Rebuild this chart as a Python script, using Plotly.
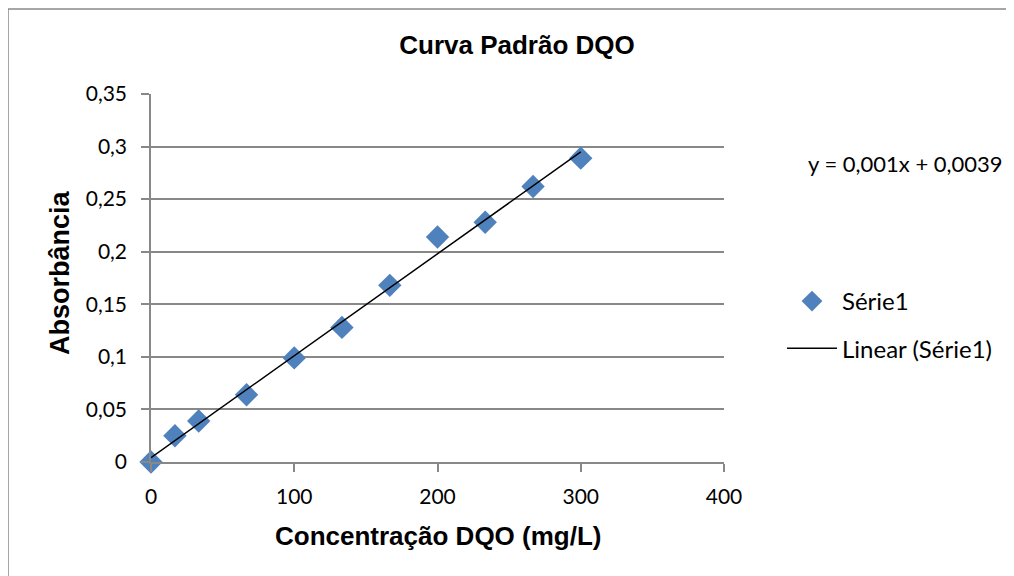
import numpy as np
import plotly.graph_objects as go

# Data
concentracao = [0, 16.7, 33.3, 66.7, 100, 133.3, 166.7, 200, 233.3, 266.7, 300]
absorbancia = [0.0, 0.025, 0.039, 0.064, 0.099, 0.128, 0.168, 0.214, 0.228, 0.262, 0.289]
x_ticks = [0, 100, 200, 300, 400]
y_ticks = [0, 0.05, 0.1, 0.15, 0.2, 0.25, 0.3, 0.35]
y_tick_labels = ["0", "0,05", "0,1", "0,15", "0,2", "0,25", "0,3", "0,35"]
equacao = "y = 0,001x + 0,0039"

# Linear trendline (least squares, as Excel does)
slope, intercept = np.polyfit(concentracao, absorbancia, 1)
trend_x = [min(concentracao), max(concentracao)]
trend_y = [slope * v + intercept for v in trend_x]

OFF = 8  # page body margin
W, H = 1014, 576
L, R, T, B = 151 - OFF, 724 - OFF, 94 - OFF, 462 - OFF

def px(xp):
    return (xp - OFF - L) / (R - L)

def py(yp):
    return (B - (yp - OFF)) / (B - T)

fig = go.Figure()
fig.add_trace(go.Scatter(
    x=concentracao, y=absorbancia, mode="markers", name="Série1",
    marker=dict(symbol="diamond", size=18, color="#4F81BD"),
    legendgroup="a", cliponaxis=False,
))
fig.add_trace(go.Scatter(
    x=trend_x, y=trend_y, mode="lines", name="Linear (Série1)",
    line=dict(color="black", width=1.5),
    legendgroup="b", cliponaxis=False,
))

tickfont = dict(family="Lato, Open Sans, sans-serif", size=21, color="black")
boldfont = "Liberation Sans, Arial, sans-serif"
fig.update_layout(
    width=W, height=H,
    margin=dict(l=L, r=W - R, t=T, b=H - B),
    paper_bgcolor="white", plot_bgcolor="white",
    title=dict(text="<b>Curva Padrão DQO</b>", x=(517 - OFF) / W, xanchor="center",
               y=1 - (45 - OFF) / H, yanchor="middle", yref="container",
               font=dict(family=boldfont, size=26, color="black")),
    xaxis=dict(range=[0, 400], tickvals=x_ticks, ticktext=[str(v) for v in x_ticks],
               showgrid=False, zeroline=False, showline=True, linecolor="#888888", linewidth=1.5,
               ticks="outside", ticklen=8, tickwidth=1.5, tickcolor="#888888",
               tickfont=tickfont, ticklabelstandoff=7),
    yaxis=dict(range=[0, 0.35], tickvals=y_ticks, ticktext=y_tick_labels,
               showgrid=True, gridcolor="#888888", gridwidth=1.5, zeroline=False,
               showline=True, linecolor="#888888", linewidth=1.5,
               ticks="outside", ticklen=8, tickwidth=1.5, tickcolor="#888888",
               tickfont=tickfont, ticklabelstandoff=10),
    showlegend=True,
    legend=dict(x=px(782), y=py(279), xanchor="left", yanchor="top",
                font=dict(family="Lato, Open Sans, sans-serif", size=24, color="black"),
                tracegroupgap=13, itemwidth=50, bgcolor="rgba(0,0,0,0)"),
)

fig.add_annotation(text=equacao, x=px(806), y=py(163), xref="paper", yref="paper",
                   xanchor="left", yanchor="middle", showarrow=False,
                   font=dict(family="Lato, Open Sans, sans-serif", size=22, color="black"))
fig.add_annotation(text="<b>Absorbância</b>", x=px(60), y=py(273), xref="paper", yref="paper",
                   xanchor="center", yanchor="middle", showarrow=False, textangle=-90,
                   font=dict(family=boldfont, size=27, color="black"))
fig.add_annotation(text="<b>Concentração DQO (mg/L)</b>", x=px(438), y=py(536), xref="paper", yref="paper",
                   xanchor="center", yanchor="middle", showarrow=False,
                   font=dict(family=boldfont, size=26, color="black"))

# chart border (left and top visible)
fig.add_shape(type="line", xref="paper", yref="paper", x0=px(8), x1=px(8), y0=py(620), y1=py(9),
              line=dict(color="#888888", width=1.5))
fig.add_shape(type="line", xref="paper", yref="paper", x0=px(8), x1=px(1040), y0=py(9), y1=py(9),
              line=dict(color="#888888", width=1.5))

fig.write_html("out.html")
